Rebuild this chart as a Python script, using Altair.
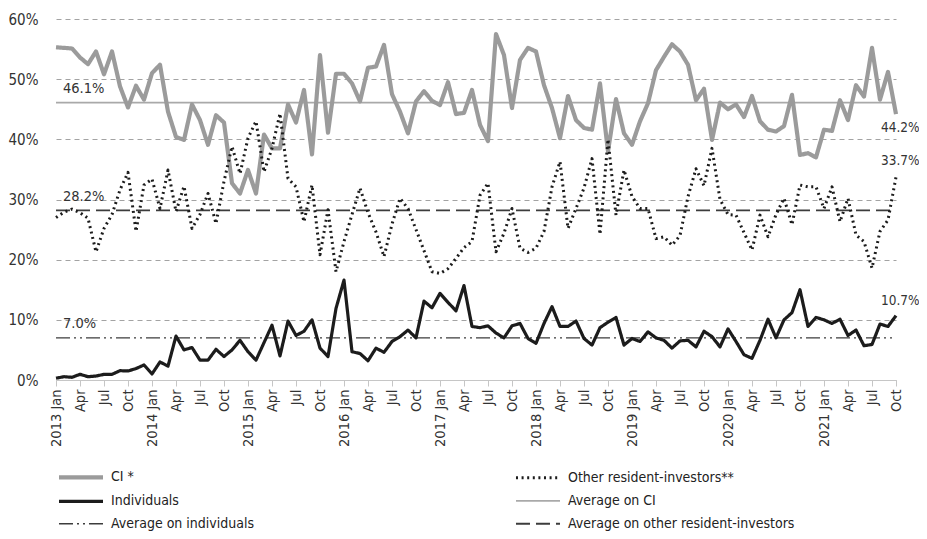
import altair as alt
import pandas as pd

# ---- tick labels (every third month, Jan 2013 .. Oct 2021) ----
tick_labels = []
for yr in range(2013, 2022):
    tick_labels += [f"{yr} Jan", "Apr", "Jul", "Oct"]

# ---- monthly shares, % (Jan 2013 .. Oct 2021) ----
ci = [55.3, 55.2, 55.1, 53.6, 52.5, 54.6, 50.8, 54.6, 48.8, 45.3,
      48.9, 46.6, 51.0, 52.4, 44.6, 40.4, 39.9, 45.8, 43.2, 39.1,
      44.0, 42.8, 32.7, 31.0, 34.9, 31.0, 40.8, 38.5, 38.5, 45.8,
      42.8, 48.2, 37.5, 54.0, 41.1, 50.9, 50.9, 49.3, 46.3, 51.9,
      52.1, 55.7, 47.5, 44.6, 41.0, 46.3, 48.0, 46.4, 45.7, 49.5,
      44.2, 44.4, 48.2, 42.4, 39.7, 57.5, 54.0, 45.2, 53.2, 55.2,
      54.6, 49.0, 45.2, 40.2, 47.2, 43.2, 41.9, 41.6, 49.3, 38.0,
      46.7, 41.0, 39.1, 43.0, 46.0, 51.5, 53.7, 55.8, 54.6, 52.4,
      46.5, 48.4, 39.9, 46.1, 45.0, 45.8, 43.7, 47.2, 43.0, 41.6,
      41.3, 42.2, 47.4, 37.4, 37.7, 37.0, 41.6, 41.4, 46.5, 43.2,
      49.0, 47.1, 55.2, 46.6, 51.2, 44.2]

other = [27.0, 27.9, 28.4, 27.8, 26.9, 21.3, 25.2, 27.5, 31.6, 34.5,
         24.7, 32.4, 33.4, 28.5, 34.9, 28.0, 32.2, 25.2, 27.5, 31.0,
         26.0, 33.0, 38.8, 34.3, 40.2, 43.0, 34.6, 38.5, 44.3, 33.5,
         32.1, 26.3, 32.4, 20.8, 28.3, 18.0, 23.0, 27.5, 31.9, 27.8,
         24.6, 20.5, 25.9, 30.2, 28.5, 25.0, 21.5, 18.0, 17.7, 18.5,
         20.2, 22.0, 23.0, 30.7, 32.7, 21.3, 24.4, 28.5, 21.9, 21.2,
         21.9, 24.7, 32.1, 36.3, 25.2, 28.5, 31.9, 36.8, 24.2, 40.0,
         27.4, 34.9, 30.5, 28.5, 28.5, 23.5, 23.8, 22.4, 24.0, 30.5,
         35.1, 32.3, 38.5, 30.0, 27.5, 27.4, 24.5, 21.6, 27.4, 23.8,
         27.5, 30.2, 25.8, 32.4, 32.1, 32.1, 28.5, 32.1, 26.3, 30.2,
         24.1, 23.0, 18.6, 24.7, 26.6, 33.7]

individuals = [0.3, 0.55, 0.45, 0.95, 0.55, 0.66, 0.94, 0.94, 1.55, 1.5,
               1.9, 2.5, 1.0, 3.0, 2.3, 7.3, 5.0, 5.4, 3.3, 3.3,
               5.1, 3.9, 5.0, 6.6, 4.7, 3.3, 6.2, 9.1, 4.0, 9.8,
               7.4, 8.1, 10.0, 5.3, 3.9, 11.9, 16.6, 4.7, 4.4, 3.2,
               5.3, 4.6, 6.4, 7.2, 8.3, 7.0, 13.1, 12.0, 14.4, 12.9,
               11.5, 15.7, 8.9, 8.7, 9.0, 7.8, 7.0, 9.0, 9.4, 6.9,
               6.1, 9.4, 12.2, 8.9, 8.9, 9.8, 6.9, 5.8, 8.7, 9.6,
               10.4, 5.8, 6.9, 6.4, 8.0, 7.0, 6.6, 5.3, 6.5, 6.6,
               5.5, 8.1, 7.2, 5.5, 8.5, 6.4, 4.2, 3.6, 6.6, 10.1,
               7.0, 10.0, 11.2, 15.0, 8.9, 10.4, 10.0, 9.4, 10.1, 7.4,
               8.3, 5.7, 5.9, 9.3, 8.9, 10.7]

avg_ci = 46.1
avg_other = 28.2
avg_individuals = 7.0

series_names = ["CI *", "Other resident-investors**", "Individuals",
                "Average on CI", "Average on individuals",
                "Average on other resident-investors"]

# ---- tables ----
n = len(ci)
rows = []
for name, vals in [("CI *", ci), ("Other resident-investors**", other),
                   ("Individuals", individuals)]:
    for i, v in enumerate(vals):
        rows.append({"m": i, "series": name, "v": v})
lines_df = pd.DataFrame(rows)

avg_rows = []
for name, val in [("Average on CI", avg_ci),
                  ("Average on individuals", avg_individuals),
                  ("Average on other resident-investors", avg_other)]:
    for m in (0, n - 1):
        avg_rows.append({"m": m, "series": name, "v": val})
avg_df = pd.DataFrame(avg_rows)

avg_label_df = pd.DataFrame({"m": [0, 0, 0],
                             "v": [avg_ci, avg_other, avg_individuals],
                             "t": [f"{avg_ci:.1f}%", f"{avg_other:.1f}%",
                                   f"{avg_individuals:.1f}%"]})

FONT = "DejaVu Sans Condensed"
TXT = "#333333"

colors = ["#9b9b9b", "#1c1c1c", "#1c1c1c", "#a9a9a9", "#3c3c3c", "#3c3c3c"]
dashes = [[1, 0], [2.0, 3.6], [1, 0], [1, 0], [14, 4, 2, 4, 2, 4], [14, 6]]
widths = [4.2, 3.0, 3.2, 1.6, 1.4, 1.9]

label_js = "[" + ",".join(f"'{s}'" for s in tick_labels) + "][round(datum.value / 3)]"

legend = alt.Legend(
    title=None, orient="none", legendX=14, legendY=447, columns=2,
    direction="horizontal", columnPadding=254, rowPadding=4.9,
    symbolType="M-2.5,0H2.5", symbolSize=310,
    labelFont=FONT, labelFontSize=14, labelColor="#222222", labelLimit=400,
    labelOffset=19,
)

x_enc = alt.X("m:Q",
              scale=alt.Scale(domain=[0, n - 1], nice=False, zero=False),
              axis=alt.Axis(values=list(range(0, n, 3)), labelExpr=label_js,
                            labelAngle=270, labelFont=FONT, labelFontSize=14.5,
                            labelColor=TXT, domainColor="#c6c6c6",
                            tickColor="#c6c6c6", tickSize=6, grid=False,
                            title=None, labelPadding=3, labelOverlap=False,
                            labelFlush=False, labelBound=False))
y_enc = alt.Y("v:Q",
              scale=alt.Scale(domain=[0, 60], nice=False),
              axis=alt.Axis(values=[0, 10, 20, 30, 40, 50, 60],
                            labelExpr="datum.value + '%'", domain=False,
                            ticks=False, gridDash=[5, 4], gridColor="#a3a3a3",
                            gridWidth=1, labelPadding=18, title=None,
                            labelFont=FONT, labelFontSize=15, labelColor=TXT))

common = dict(
    color=alt.Color("series:N", scale=alt.Scale(domain=series_names, range=colors),
                    legend=legend, sort=series_names),
    strokeDash=alt.StrokeDash("series:N", scale=alt.Scale(domain=series_names, range=dashes),
                              legend=legend, sort=series_names),
    strokeWidth=alt.StrokeWidth("series:N",
                                scale=alt.Scale(type="ordinal", domain=series_names, range=widths),
                                legend=legend, sort=series_names),
)

avg_lines = alt.Chart(avg_df).mark_line().encode(x=x_enc, y=y_enc, detail="series:N", **common)
series_lines = alt.Chart(lines_df).mark_line(strokeJoin="round").encode(
    x=x_enc, y=y_enc, detail="series:N", **common)

avg_text = alt.Chart(avg_label_df).mark_text(
    align="left", baseline="middle", dx=7, dy=-13.5, font=FONT, fontSize=14.5, color=TXT
).encode(x=x_enc, y=y_enc, text="t:N")

end_layers = []
for vals, dy in [(ci, 14), (other, -16), (individuals, -15)]:
    d = pd.DataFrame({"m": [n - 1], "v": [vals[-1]], "t": [f"{vals[-1]:.1f}%"]})
    end_layers.append(
        alt.Chart(d).mark_text(align="left", baseline="middle", dx=-15, dy=dy,
                               font=FONT, fontSize=13.5, color=TXT)
        .encode(x=x_enc, y=y_enc, text="t:N"))

chart = alt.layer(avg_lines, series_lines, avg_text, *end_layers).properties(
    width=840, height=361,
    padding={"left": 48, "top": 11, "right": 23, "bottom": 151},
    autosize=alt.AutoSizeParams(type="none"),
).configure_view(stroke=None).configure_axisX(labelOverlap=False)

chart.save("out.html", embed_options={"renderer": "svg", "actions": False})
